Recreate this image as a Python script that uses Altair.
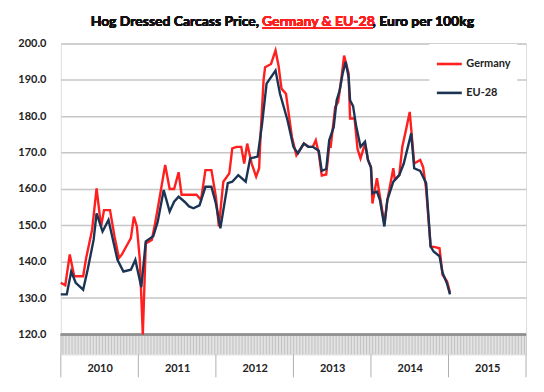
import altair as alt
import pandas as pd

# ---- data (week index from first week of 2010) ----
weeks_de = [0, 3, 6, 9, 15, 17, 21, 24, 27, 29, 33, 36, 39, 41, 45, 47, 49, 51, 53, 55,
            57, 61, 63, 66, 70, 73, 76, 79, 81, 85, 91, 94, 97, 101, 104, 106, 109, 113,
            115, 118, 121, 123, 125, 128, 131, 133, 134, 136, 137, 141, 144, 146, 148,
            151, 155, 158, 163, 166, 169, 171, 173, 175, 178, 180, 181, 184, 186, 188,
            190, 193, 194, 197, 199, 201, 204, 206, 208, 209, 212, 214, 217, 219, 223,
            224, 227, 229, 231, 234, 237, 241, 243, 245, 248, 251, 254, 256, 259, 261]
vals_de = [134.2, 133.5, 142.0, 136.0, 136.0, 141.0, 148.8, 160.2, 149.7, 154.2, 154.2,
           147.0, 141.0, 142.0, 145.0, 146.5, 152.4, 149.7, 140.5, 120.0,
           145.0, 146.0, 150.0, 157.0, 166.6, 160.0, 160.0, 164.6, 158.4, 158.4, 158.4,
           157.0, 165.2, 165.2, 157.9, 149.7, 162.0, 164.3,
           171.2, 171.6, 171.6, 167.0, 172.5, 167.0, 163.4, 165.7, 175.0, 190.0,
           193.5, 194.4, 198.1, 194.0, 187.6,
           186.2, 174.3, 169.3, 172.5, 171.6, 171.6, 173.4, 169.8, 163.7, 164.0,
           171.6, 171.6, 182.5, 184.0, 189.9,
           196.7, 191.8, 179.4, 179.4, 171.0, 168.4, 172.5, 168.0, 166.0, 156.0,
           163.0, 158.0, 150.5, 157.0, 165.7,
           162.5, 163.8, 171.6, 175.3, 181.2, 167.0, 168.0, 166.0, 160.0, 144.2,
           144.0, 143.7, 136.4, 134.6, 131.5]

weeks_eu = [0, 4, 7, 10, 15, 18, 22, 24, 28, 32, 35, 38, 42, 47, 50, 54, 57, 62, 65, 69,
            73, 76, 79, 83, 86, 89, 93, 97, 101, 104, 107, 112, 115, 119, 124, 127, 132,
            135, 138, 144, 147, 152, 156, 159, 163, 166, 169, 173, 175, 178, 180, 183,
            185, 187, 189, 191, 193, 194, 196, 198, 201, 204, 206, 208, 209, 212, 214,
            217, 219, 223, 227, 230, 235, 237, 241, 245, 248, 250, 254, 256, 259, 261]
vals_eu = [131.0, 131.0, 137.3, 134.2, 132.3, 137.8, 146.0, 153.3, 148.3, 151.5, 146.0,
           140.5, 137.3, 137.8, 140.5, 133.0, 145.6, 147.0, 151.0, 159.7,
           153.8, 156.5, 157.9, 156.5, 155.2, 154.7, 155.5, 160.6, 160.6, 156.0, 149.2,
           161.6, 162.0, 163.8, 162.0, 168.4, 168.9,
           178.0, 189.0, 192.6, 186.2, 179.0, 171.6, 169.8, 172.5, 171.6, 171.6, 170.5,
           165.0, 165.5, 173.4, 177.0,
           184.4, 187.1, 191.7, 195.0, 190.8, 184.4, 182.8, 177.5, 171.6, 173.0, 168.0,
           166.0, 158.8, 159.3, 157.0,
           149.7, 157.0, 162.0, 163.8, 167.0, 175.3, 165.7, 165.0, 161.6, 144.2, 142.8,
           141.5, 137.0, 134.0, 131.0]

series = ["Germany", "EU-28"]
colors = ["#ff1f1f", "#1c3454"]
years = ["2010", "2011", "2012", "2013", "2014", "2015"]
y_ticks = [120, 130, 140, 150, 160, 170, 180, 190, 200]

WEEKS_PER_YEAR = 52
n_weeks = WEEKS_PER_YEAR * len(years)
FONT = "Lato"
Y_MIN, Y_BASE = 114.5, 120

de = pd.DataFrame({"week": weeks_de, "price": vals_de, "series": series[0]})
eu = pd.DataFrame({"week": weeks_eu, "price": vals_eu, "series": series[1]})
band_ticks = pd.DataFrame({"week": list(range(n_weeks + 1))})
year_bounds = pd.DataFrame({"week": [i * WEEKS_PER_YEAR for i in range(len(years) + 1)]})

W, H = 467, 312
xscale = alt.Scale(domain=[0, n_weeks], nice=False, zero=False)
yscale = alt.Scale(domain=[Y_MIN, 200], nice=False, zero=False)
cscale = alt.Scale(domain=series, range=colors)

x_axis = alt.Axis(
    values=[i * WEEKS_PER_YEAR + WEEKS_PER_YEAR / 2 for i in range(len(years))],
    labelExpr="'' + (2010 + floor(datum.value / 52))",
    domain=False, ticks=False, grid=False, title=None,
    labelFont=FONT, labelFontSize=11, labelFontWeight="bold", labelColor="#222",
    labelPadding=8,
)
y_axis = alt.Axis(
    values=y_ticks, format=".1f", domain=False, ticks=False, title=None,
    grid=True, gridColor="#c6c6c6", gridWidth=1.5, labelOverlap=False,
    labelFont=FONT, labelFontSize=11, labelFontWeight="bold", labelColor="#222",
    labelPadding=15,
)

X = alt.X("week:Q", scale=xscale, axis=x_axis)
Y = alt.Y("price:Q", scale=yscale, axis=y_axis)

legend = alt.Legend(
    title=None, orient="none", legendX=370, legendY=0.5, padding=6,
    fillColor="white", symbolType="stroke", symbolSize=625,
    symbolStrokeWidth=2.6, rowPadding=9, labelOffset=3,
    labelFont=FONT, labelFontSize=11, labelFontWeight="bold",
    labelColor="#222", labelExpr="datum.label + '\u00a0\u00a0\u00a0'",
)

line_de = alt.Chart(de).mark_line(strokeWidth=2.4).encode(
    x=X, y=Y, color=alt.Color("series:N", scale=cscale, legend=legend),
)
line_eu = alt.Chart(eu).mark_line(strokeWidth=2.4).encode(
    x=X, y=Y, color=alt.Color("series:N", scale=cscale, legend=legend),
)

band = alt.Chart(band_ticks).mark_rule(color="#bcbcbc", strokeWidth=0.9).encode(
    x=X,
    y=alt.YDatum(Y_BASE, scale=yscale, axis=y_axis),
    y2=alt.Y2Datum(Y_MIN),
)
band_top = alt.Chart(year_bounds).mark_rule(color="#909090", strokeWidth=1.5).encode(
    x=alt.XDatum(0, scale=xscale, axis=x_axis), x2=alt.X2Datum(n_weeks),
    y=alt.YDatum(Y_BASE, scale=yscale, axis=y_axis),
)
separators = alt.Chart(year_bounds).mark_rule(color="#b0b0b0", strokeWidth=1).encode(
    x=X, y=alt.value(H), y2=alt.value(H + 23),
)

title_y = -18
FS = 14
t1 = alt.Chart(year_bounds).mark_text(
    text="Hog Dressed Carcass Price,", align="right", baseline="alphabetic",
    font=FONT, fontSize=FS, fontWeight="bold", color="#111",
).encode(x=alt.value(199), y=alt.value(title_y))
t2 = alt.Chart(year_bounds).mark_text(
    text="Germany & EU-28", align="left", baseline="alphabetic",
    font=FONT, fontSize=FS, fontWeight="bold", color="#ff1f1f",
).encode(x=alt.value(202), y=alt.value(title_y))
t3 = alt.Chart(year_bounds).mark_text(
    text=", Euro per 100kg", align="left", baseline="alphabetic",
    font=FONT, fontSize=FS, fontWeight="bold", color="#111",
).encode(x=alt.value(313), y=alt.value(title_y))
underline = alt.Chart(year_bounds).mark_rule(color="#ff1f1f", strokeWidth=1).encode(
    x=alt.value(202), x2=alt.value(313), y=alt.value(title_y + 2.5),
)

chart = alt.layer(
    band, band_top, separators, line_de, line_eu, t1, t2, t3, underline
).properties(
    width=W, height=H,
    autosize=alt.AutoSizeParams(type="none"),
    padding={"left": 53, "top": 35, "right": 10, "bottom": 30},
).configure_view(stroke=None).configure(background="white")

chart.save("out.html", embed_options={"renderer": "svg", "actions": False})
